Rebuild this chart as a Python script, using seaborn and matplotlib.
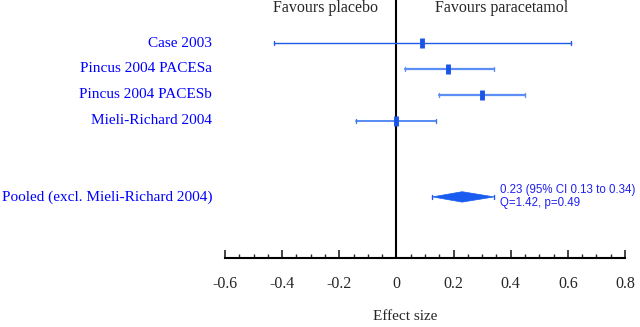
import numpy as np
import seaborn as sns
import matplotlib.pyplot as plt
import pandas as pd

# study data (effect sizes with 95% CI)
studies = ["Case 2003", "Pincus 2004 PACESa", "Pincus 2004 PACESb", "Mieli-Richard 2004"]
effect = [0.09, 0.18, 0.30, 0.00]
ci_low = [-0.43, 0.03, 0.15, -0.14]
ci_high = [0.61, 0.34, 0.45, 0.14]

pooled_label = "Pooled (excl. Mieli-Richard 2004)"
pooled_est = 0.23
pooled_low = 0.126
pooled_high = 0.342
pooled_text = "0.23 (95% CI 0.13 to 0.34)\nQ=1.42, p=0.49"

xticks = [-0.6, -0.4, -0.2, 0, 0.2, 0.4, 0.6, 0.8]
xticklabels = ["-0.6", "-0.4", "-0.2", "0", "0.2", "0.4", "0.6", "0.8"]

sns.set_style("white")
plt.rcParams['font.family'] = ['Liberation Serif', 'DejaVu Serif']

df = pd.DataFrame({"study": studies, "effect": effect, "low": ci_low, "high": ci_high})
df["row"] = np.arange(1, len(df) + 1)
pooled_row = 6.92

fig = plt.figure(figsize=(6.4, 3.27), dpi=100)
ax = fig.add_axes([225 / 640, 69 / 327, 400 / 640, 258 / 327])

line_cols = ["#1f5fe8", "#5b8ff5", "#5b8ff5", "#3a78ee"]
line_w = [1.0, 1.6, 1.6, 1.2]
for i, r in df.iterrows():
    ax.plot([r["low"], r["high"]], [r["row"], r["row"]], color=line_cols[i], lw=line_w[i], zorder=2)
    ax.plot([r["low"], r["low"]], [r["row"] - 0.09, r["row"] + 0.09], color=line_cols[i], lw=1.0)
    ax.plot([r["high"], r["high"]], [r["row"] - 0.09, r["row"] + 0.09], color=line_cols[i], lw=1.0)

sns.scatterplot(data=df, x="effect", y="row", marker="|", s=45, linewidth=3.5,
                color="#1a55e8", ax=ax, zorder=3, legend=False)

# pooled diamond
h = 0.2
ax.fill([pooled_low, pooled_est, pooled_high, pooled_est],
        [pooled_row, pooled_row - h, pooled_row, pooled_row + h],
        color="#1a5cf0", lw=0.5, zorder=3)
for xe in [pooled_low, pooled_high]:
    ax.plot([xe, xe], [pooled_row - 0.08, pooled_row + 0.08], color="#1a5cf0", lw=1.0)
ax.text(0.363, pooled_row, pooled_text, color="#2020ee", fontsize=8.3,
        family=["Liberation Sans", "DejaVu Sans"], va="center", ha="left", linespacing=1.1)

# labels on the left
for r, name in zip(df["row"], df["study"]):
    ax.text(-0.0325, r, name, transform=ax.get_yaxis_transform(), ha="right", va="center",
            color="#0000ff", fontsize=11)
ax.text(-0.0325, pooled_row, pooled_label, transform=ax.get_yaxis_transform(), ha="right",
        va="center", color="#0000ff", fontsize=11)

# no-effect line
ax.axvline(0, color="black", lw=1.5, zorder=1)
ax.text(-0.065, -0.33, "Favours placebo", ha="right", va="center", fontsize=11.5)
ax.text(0.135, -0.33, "Favours paracetamol", ha="left", va="center", fontsize=11.5)

ax.set_xlim(-0.6, 0.8)
ax.set_ylim(9.27, -0.654)
ax.set_yticks([])
ax.set_ylabel("")
ax.set_xticks(xticks)
ax.set_xticklabels(xticklabels, fontsize=11.5)
ax.set_xticks(np.arange(-0.6, 0.81, 0.05), minor=True)
ax.tick_params(axis="x", which="major", direction="in", length=6, width=1.2, pad=13, bottom=True)
ax.tick_params(axis="x", which="minor", direction="in", length=3, width=1.0, bottom=True)
for s in ["top", "right", "left"]:
    ax.spines[s].set_visible(False)
ax.spines["bottom"].set_color("black")
ax.spines["bottom"].set_linewidth(1.5)
ax.set_xlabel("Effect size", fontsize=11)
ax.xaxis.set_label_coords(0.45, -0.2)
ax.patch.set_alpha(0)

fig.savefig("out.png", dpi=100)
